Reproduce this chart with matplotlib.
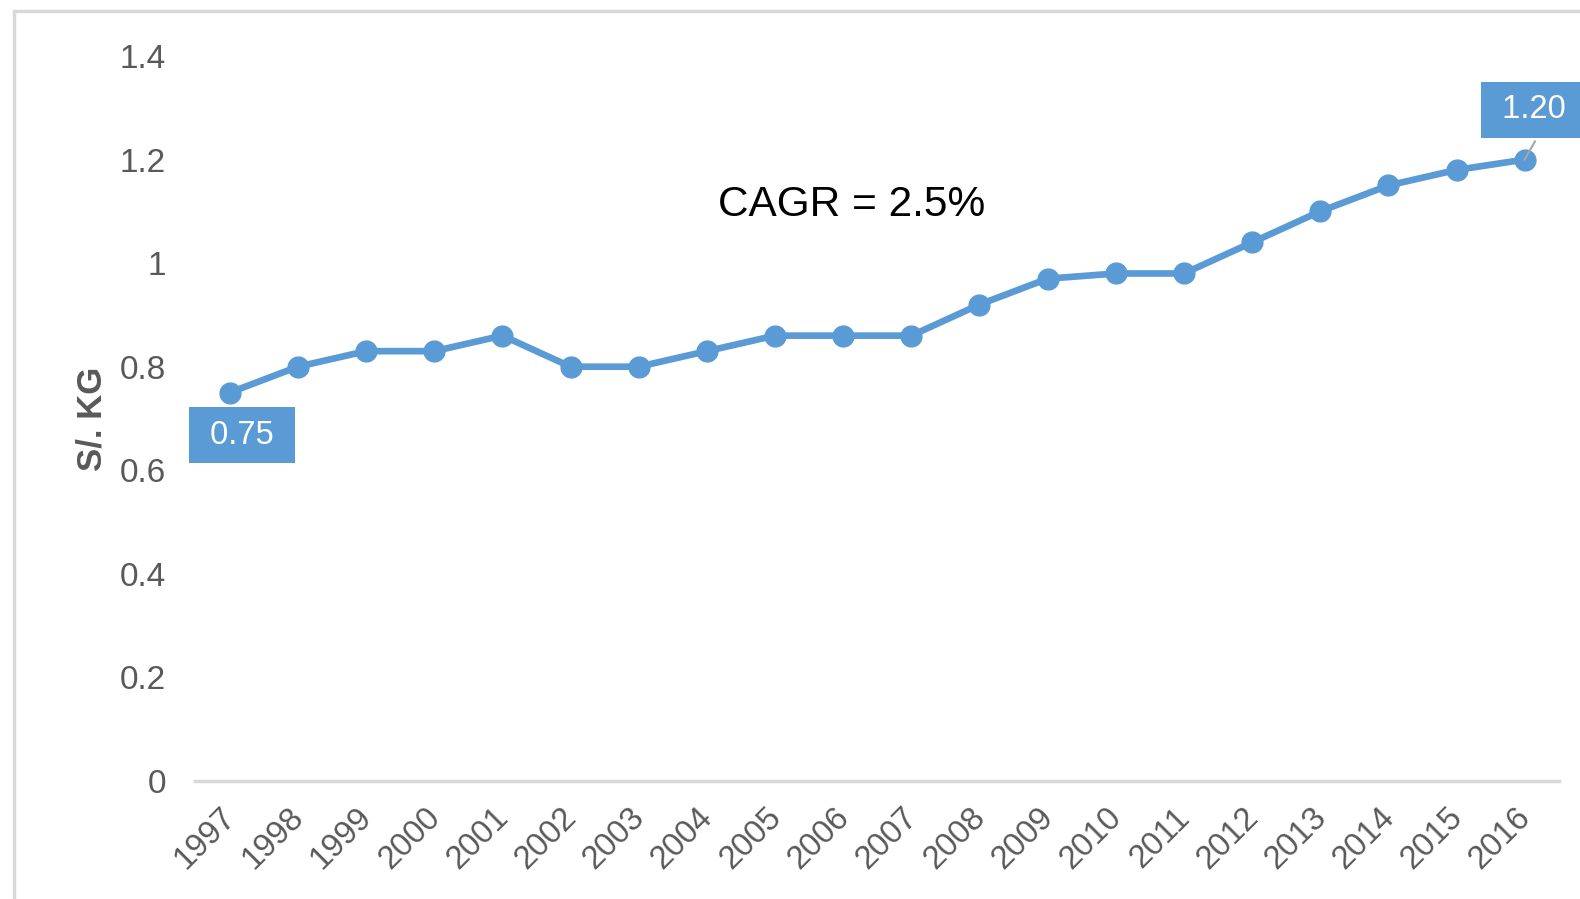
import matplotlib
matplotlib.use("Agg")
import matplotlib.pyplot as plt
from matplotlib.patches import Rectangle

plt.rcParams['font.family'] = ['Liberation Sans', 'DejaVu Sans']

years = ['1997', '1998', '1999', '2000', '2001', '2002', '2003', '2004', '2005', '2006',
         '2007', '2008', '2009', '2010', '2011', '2012', '2013', '2014', '2015', '2016']
price = [0.75, 0.80, 0.83, 0.83, 0.86, 0.80, 0.80, 0.83, 0.86, 0.86,
         0.86, 0.92, 0.97, 0.98, 0.98, 1.04, 1.10, 1.15, 1.18, 1.20]
y_ticks = [0, 0.2, 0.4, 0.6, 0.8, 1, 1.2, 1.4]
y_tick_labels = ['0', '0.2', '0.4', '0.6', '0.8', '1', '1.2', '1.4']

blue = '#5B9BD5'
grey_txt = '#595959'

fig = plt.figure(figsize=(15.8, 8.99), dpi=100)
ax = fig.add_axes([0.1234, 0.1313, 0.8636, 0.8064])

# outer chart border (cut at right/bottom as in the original)
fig.patches.append(Rectangle((14 / 1580, -0.1), 1.2, 1 - 11 / 899 + 0.1,
                             transform=fig.transFigure, fill=False,
                             edgecolor='#D9D9D9', linewidth=2.5, zorder=0))

x = list(range(len(years)))
ax.plot(x, price, color=blue, linewidth=4.8, marker='o', markersize=15, zorder=3, clip_on=False)

ax.set_xlim(-0.51, len(years) - 0.49)
ax.set_ylim(0, 1.4)
ax.set_yticks(y_ticks)
ax.set_yticklabels(y_tick_labels, fontsize=24, color=grey_txt)
ax.set_xticks(x)
ax.set_xticklabels([])
# rotated year labels, anchored a little left of each category
for i, yr in enumerate(years):
    ax.annotate(yr, xy=(i, 0), xycoords=('data', 'axes fraction'),
                xytext=(-7, -15), textcoords='offset points',
                fontsize=23.5, color=grey_txt, rotation=45,
                ha='right', va='top', rotation_mode='anchor', annotation_clip=False)
ax.tick_params(axis='both', length=0)
ax.tick_params(axis='y', pad=21)

for s in ['top', 'right', 'left']:
    ax.spines[s].set_visible(False)
ax.spines['bottom'].set_color('#D9D9D9')
ax.spines['bottom'].set_linewidth(2.5)

ax.set_ylabel('S/. KG', fontsize=25, fontweight='bold', color=grey_txt, labelpad=8)

ax.text(9.13, 1.112, 'CAGR = 2.5%', fontsize=30.5, color='black', ha='center', va='center')

# data labels
box = dict(boxstyle='square,pad=0.38', facecolor=blue, edgecolor='none')
ax.text(0.18, 0.668, f' {price[0]:.2f} ', fontsize=23.5, color='white', ha='center', va='center',
        bbox=box, zorder=4)
ax.plot([19, 19.15], [price[-1], price[-1] + 0.035], color='#A6A6A6', linewidth=1.5, zorder=4,
        clip_on=False)
ax.text(19.14, 1.296, f' {price[-1]:.2f} ', fontsize=23.5, color='white', ha='center', va='center',
        bbox=box, zorder=4, clip_on=False)

fig.savefig('out.png', dpi=100)
